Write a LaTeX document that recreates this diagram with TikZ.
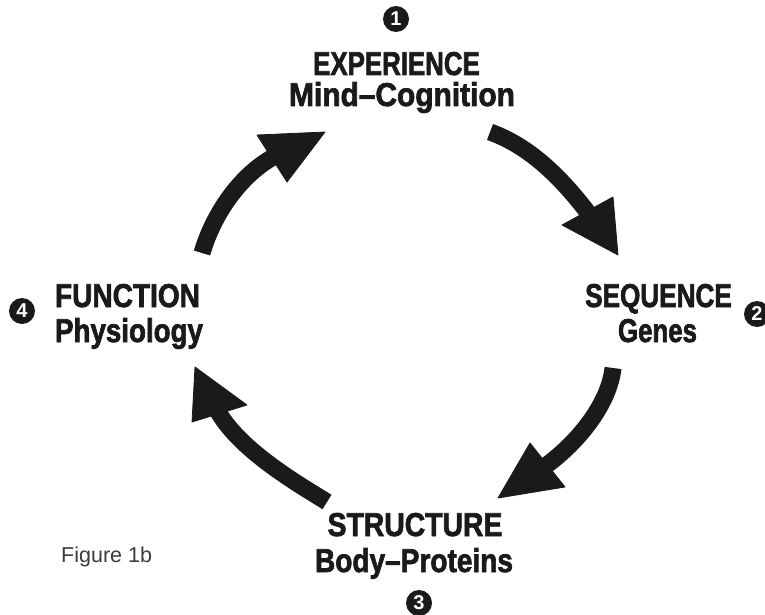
\documentclass[tikz,border=0pt]{standalone}
\usepackage{fontspec}
\usepackage{graphicx}
\setmainfont{Liberation Sans}
\newfontfamily\heavy{Liberation Sans}[FakeBold=2.2]
\definecolor{ink}{HTML}{1A1A1A}
\newcommand{\lbl}[2]{\scalebox{#1}[1]{#2}}
\tikzset{
  labtext/.style={anchor=base, inner sep=0pt, text=ink, font=\heavy\bfseries\fontsize{33}{38}\selectfont},
  numc/.style={circle, fill=ink, text=white, minimum size=26pt, inner sep=0pt, font=\bfseries\fontsize{20}{20}\selectfont},
  shaft/.style={draw=ink, line width=17pt, line cap=butt},
  headtri/.style={fill=ink, draw=ink, line width=0.8pt, line join=round}
}
\begin{document}
\begin{tikzpicture}[x=1pt, y=-1pt]
\fill[white] (0,0) rectangle (765,615);
\useasboundingbox (0,0) rectangle (765,615);

% number circles
\node[numc] (n1) at (396,19) {1};
\node[numc] (n2) at (757,314) {2};
\node[numc] (n3) at (419,603) {3};
\node[numc] (n4) at (22,311) {4};

% labels
\node[labtext] (exp) at (396.5,75) {\lbl{0.783}{EXPERIENCE}};
\node[labtext] (mind) at (402,106) {\lbl{0.906}{Mind\textendash Cognition}};
\node[labtext] (seq) at (658.5,307) {\lbl{0.792}{SEQUENCE}};
\node[labtext] (gen) at (657.5,342) {\lbl{0.783}{Genes}};
\node[labtext] (fun) at (127.5,307) {\lbl{0.85}{FUNCTION}};
\node[labtext] (phy) at (129,342) {\lbl{0.84}{Physiology}};
\node[labtext] (str) at (415,536) {\lbl{0.859}{STRUCTURE}};
\node[labtext] (bod) at (414,572) {\lbl{0.85}{Body\textendash Proteins}};

\node[anchor=base west, inner sep=0pt, text=ink!85, font=\fontsize{21.5}{25}\selectfont] (fig) at (61,562) {Figure 1b};

% arrow A: experience -> sequence
\coordinate (aT) at (490,132);
\coordinate (aE) at (590.5,216);
\draw[shaft] (aT) .. controls (532,147) and (564,181) .. (aE);
\fill[headtri] (562,225) -- (613,197) -- (618,255) -- cycle;

% arrow B: sequence -> structure
\coordinate (bT) at (613,368);
\coordinate (bE) at (542,468.4);
\draw[shaft] (bT) .. controls (609,405) and (576,445) .. (bE);
\fill[headtri] (530,443) -- (565,487) -- (498,498) -- cycle;

% arrow C: structure -> function
\coordinate (cT) at (327,502);
\coordinate (cE) at (216,408);
\draw[shaft] (cT) .. controls (293,481) and (237,448) .. (cE);
\fill[headtri] (192,422) -- (247,405) -- (195,367) -- cycle;

% arrow D: function -> experience
\coordinate (dT) at (202,253);
\coordinate (dE) at (277,155);
\draw[shaft] (dT) .. controls (213,215) and (240,174) .. (dE);
\fill[headtri] (257,135) -- (287,182) -- (325,132) -- cycle;
\end{tikzpicture}
\end{document}
